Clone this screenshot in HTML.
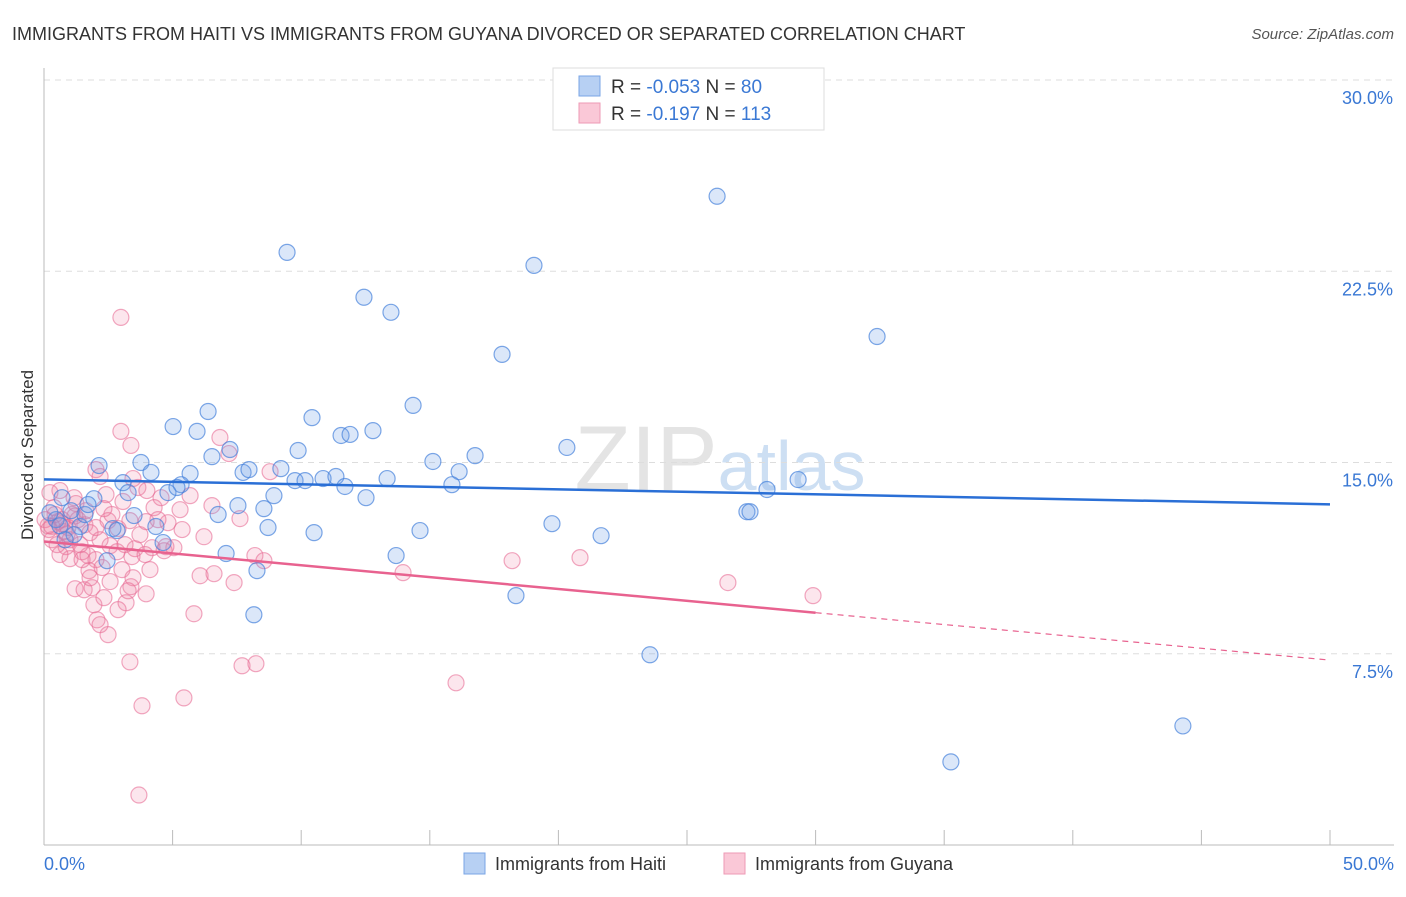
<!DOCTYPE html>
<html><head><meta charset="utf-8"><style>
body{margin:0;background:#fff;font-family:"Liberation Sans",sans-serif;}
svg text{font-family:"Liberation Sans",sans-serif;}
</style></head><body>
<svg id="chart" width="1406" height="892" xmlns="http://www.w3.org/2000/svg">
<text x="12" y="40" font-size="18" fill="#333">IMMIGRANTS FROM HAITI VS IMMIGRANTS FROM GUYANA DIVORCED OR SEPARATED CORRELATION CHART</text>
<text x="1394" y="39" font-size="15" fill="#555" text-anchor="end" font-style="italic">Source: ZipAtlas.com</text>
<text x="720" y="490" font-size="92" fill="#e4e4e4" text-anchor="middle" font-family="Liberation Serif">ZIP<tspan fill="#cddff3" font-family="Liberation Sans" font-size="70">atlas</tspan></text>
<g id="grid"></g>
<g id="axes"></g>
<g id="pts"></g>
<g id="lines"></g>
<text transform="translate(33,455) rotate(-90)" font-size="17" fill="#333" text-anchor="middle">Divorced or Separated</text>
<g>
<rect x="553" y="68" width="271" height="62" fill="#fff" stroke="#ddd"/>
<rect x="579" y="76" width="21" height="20" fill="#b7d0f3" stroke="#7aa5e6"/>
<rect x="579" y="103" width="21" height="20" fill="#fac8d7" stroke="#ee9ab5"/>
<text x="611" y="93" font-size="19" fill="#333">R = <tspan fill="#3a78d4">-0.053</tspan>   N = <tspan fill="#3a78d4"> 80</tspan></text>
<text x="611" y="120" font-size="19" fill="#333">R =  <tspan fill="#3a78d4">-0.197</tspan>   N = <tspan fill="#3a78d4">113</tspan></text>
</g>
<g>
<rect x="464" y="853" width="21" height="21" fill="#b7d0f3" stroke="#7aa5e6"/>
<text x="495" y="870" font-size="18" fill="#333">Immigrants from Haiti</text>
<rect x="724" y="853" width="21" height="21" fill="#fac8d7" stroke="#ee9ab5"/>
<text x="755" y="870" font-size="18" fill="#333">Immigrants from Guyana</text>
</g>
</svg>
<script>
const blueX=[26.17,9.45,19.05,12.44,13.49,32.39,17.81,6.38,14.35,10.42,5.02,11.55,11.9,12.79,5.95,20.33,7.23,9.88,16.76,6.53,3.77,2.14,4.16,5.68,7.74,15.12,16.14,9.21,7.97,9.76,10.15,10.85,11.35,13.34,11.7,15.86,29.32,28.11,5.33,3.07,3.27,4.82,5.17,12.52,8.94,7.54,8.55,3.5,6.77,27.33,19.75,14.62,4.35,8.71,2.68,2.84,10.5,21.66,4.63,7.08,13.69,2.45,8.28,18.35,8.16,23.56,44.28,35.26,0.47,0.62,0.23,1.4,1.17,1.05,0.82,1.59,1.94,1.71,0.7,27.45];
const blueY=[25.44,23.24,22.73,21.48,20.89,19.94,19.24,17.0,17.24,16.76,16.41,16.06,16.1,16.25,16.22,15.59,15.51,15.47,15.27,15.23,15.0,14.88,14.61,14.57,14.61,15.04,14.64,14.76,14.72,14.29,14.29,14.37,14.45,14.37,14.06,14.13,14.33,13.94,14.13,14.21,13.82,13.82,14.02,13.62,13.7,13.31,13.19,12.92,12.96,13.07,12.6,12.33,12.49,12.45,12.41,12.33,12.25,12.13,11.86,11.43,11.35,11.15,10.76,9.78,9.03,7.46,4.67,3.26,12.76,12.52,13.03,12.49,12.17,13.11,11.97,12.96,13.58,13.35,13.62,13.07];
const pinkX=[2.99,2.99,3.38,6.84,7.19,8.79,2.02,2.18,3.46,3.65,4.0,2.41,3.07,4.28,5.29,6.53,5.68,4.55,3.34,2.49,1.24,0.62,0.7,1.59,2.88,4.82,7.62,6.22,3.54,4.2,4.67,5.05,2.57,2.84,1.48,1.71,2.02,1.01,3.42,3.93,8.2,8.55,1.75,2.26,3.03,6.07,6.61,7.39,3.46,3.38,1.21,1.56,1.87,3.97,3.19,1.94,2.06,2.49,5.83,3.34,7.7,8.24,5.44,3.81,16.02,3.69,13.96,18.2,20.84,26.59,29.9,0.23,0.39,0.54,0.78,0.86,1.09,1.32,0.31,0.51,0.16,0.7,0.93,0.43,0.04,0.19,1.01,1.4,1.79,2.18,2.64,2.33,3.73,4.43,3.97,3.15,4.74,5.37,2.02,1.63,1.17,1.48,0.62,2.57,3.27,2.88,2.18,4.12,1.79,2.33,0.3,0.9,1.2];
const pinkY=[20.69,16.22,15.67,15.98,15.35,14.64,14.72,14.45,14.37,14.02,13.9,13.74,13.47,13.23,13.15,13.31,13.7,13.62,12.72,12.72,13.39,13.9,12.76,12.56,12.41,12.64,12.8,12.09,11.62,11.66,11.54,11.66,11.74,11.5,11.5,11.35,11.19,11.23,11.31,11.39,11.35,11.15,10.76,10.88,10.8,10.56,10.64,10.29,10.48,10.13,10.05,10.01,10.09,9.85,9.5,9.42,8.83,8.25,9.07,7.18,7.03,7.11,5.77,5.46,6.36,1.96,10.68,11.15,11.27,10.29,9.78,13.82,13.23,12.68,12.29,11.7,12.96,12.76,11.97,11.78,12.52,12.6,12.45,12.96,12.76,12.37,11.97,11.78,12.25,11.97,12.96,13.19,12.17,12.76,12.68,11.78,11.7,12.37,12.45,13.11,13.62,11.19,11.39,10.33,9.97,9.23,8.64,10.8,10.48,9.7,12.5,12.2,12.9];
const yTicks=[7.5,15,22.5,30];
const yTickLabels=["7.5%","15.0%","22.5%","30.0%"];
const blueTrend=[14.34,13.36];
const pinkTrend=[11.9,7.25];
const pinkSolidEnd=30;

const X0=44,X1=1330,Y0=845,Y30=80;
const sx=v=>X0+(v/50)*(X1-X0);
const sy=v=>Y0-(v/30)*(Y0-Y30);
const NS="http://www.w3.org/2000/svg";
function mk(parent,tag,attrs){const e=document.createElementNS(NS,tag);for(const k in attrs)e.setAttribute(k,attrs[k]);document.getElementById(parent).appendChild(e);return e;}

yTicks.forEach((t,i)=>{
  const g=mk('grid','line',{x1:X0,x2:1394,y1:sy(t),y2:sy(t),stroke:'#ddd','stroke-dasharray':'6,5'});
  
  
  const l=mk('axes','text',{x:1393,y:sy(t)+24,'font-size':18,fill:'#3a78d4','text-anchor':'end'});
  l.textContent=yTickLabels[i];
  
  
});
const ya=mk('axes','line',{x1:X0,x2:X0,y1:68,y2:Y0,stroke:'#bbb'});


const xa=mk('axes','line',{x1:X0,x2:1394,y1:Y0,y2:Y0,stroke:'#bbb'});


for(let i=1;i<=10;i++){
  const t=mk('axes','line',{x1:sx(i*5),x2:sx(i*5),y1:830,y2:Y0,stroke:'#bbb'});
  
  
}
const xl0=mk('axes','text',{x:44,y:870,'font-size':18,fill:'#3a78d4'});xl0.textContent='0.0%';


const xl1=mk('axes','text',{x:1394,y:870,'font-size':18,fill:'#3a78d4','text-anchor':'end'});xl1.textContent='50.0%';



pinkX.forEach((x,i)=>{
  const c=mk('pts','circle',{cx:sx(x),cy:sy(pinkY[i]),r:8,fill:'rgba(240,130,165,0.2)',stroke:'rgba(232,110,150,0.6)','stroke-width':1.2});
  
  
});
blueX.forEach((x,i)=>{
  const c=mk('pts','circle',{cx:sx(x),cy:sy(blueY[i]),r:8,fill:'rgba(110,160,230,0.25)',stroke:'rgba(70,130,220,0.7)','stroke-width':1.2});
  
  
});
const bl=mk('lines','line',{x1:sx(0),y1:sy(blueTrend[0]),x2:sx(50),y2:sy(blueTrend[1]),stroke:'#2a6fd6','stroke-width':2.5});


const pm=pinkTrend[0]+(pinkTrend[1]-pinkTrend[0])*pinkSolidEnd/50;
const pl=mk('lines','line',{x1:sx(0),y1:sy(pinkTrend[0]),x2:sx(pinkSolidEnd),y2:sy(pm),stroke:'#e8628f','stroke-width':2.5});


const pd=mk('lines','line',{x1:sx(pinkSolidEnd),y1:sy(pm),x2:sx(50),y2:sy(pinkTrend[1]),stroke:'#e8628f','stroke-width':1.2,'stroke-dasharray':'6,5'});


</script>
</body></html>
